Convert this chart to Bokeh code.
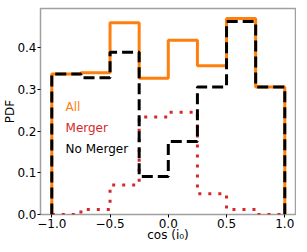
from bokeh.plotting import figure
from bokeh.models import Range1d, FixedTicker, Label
from bokeh.embed import file_html
from bokeh.resources import INLINE

# ---- data ----
bin_edges = [-1.0, -0.75, -0.5, -0.25, 0.0, 0.25, 0.5, 0.75, 1.0]
pdf_all = [0.337, 0.340, 0.460, 0.327, 0.418, 0.357, 0.470, 0.306]
pdf_merger = [0.0, 0.012, 0.071, 0.234, 0.245, 0.050, 0.012, 0.0]
pdf_no_merger = [0.337, 0.328, 0.389, 0.091, 0.175, 0.306, 0.463, 0.306]
x_ticks = [-1.0, -0.5, 0.0, 0.5, 1.0]
x_tick_labels = ["\u22121.0", "\u22120.5", "0.0", "0.5", "1.0"]
y_ticks = [0.0, 0.1, 0.2, 0.3, 0.4]
y_tick_labels = ["0.0", "0.1", "0.2", "0.3", "0.4"]
legend_labels = ["All", "Merger", "No Merger"]
x_label = "cos (i\u2080)"
y_label = "PDF"

FONT = "DejaVu Sans"


def step_outline(edges, vals):
    xs = [edges[0]]
    ys = [0.0]
    for i, v in enumerate(vals):
        xs += [edges[i], edges[i + 1]]
        ys += [v, v]
    xs.append(edges[-1])
    ys.append(0.0)
    return xs, ys


p = figure(frame_width=255, frame_height=206, output_backend="svg",
           toolbar_location=None,
           x_range=Range1d(-1.097, 1.092), y_range=Range1d(0.0, 0.494),
           min_border_left=35, min_border_right=1, min_border_top=8,
           min_border_bottom=28)

p.grid.visible = False
p.background_fill_color = "white"
p.border_fill_color = "white"
p.outline_line_color = "#a0a0a0"
p.outline_line_width = 1.5

# histograms (step outlines)
xa, ya = step_outline(bin_edges, pdf_all)
p.line(xa, ya, line_color="#ff7f0e", line_width=3)
xm, ym = step_outline(bin_edges, pdf_merger)
p.line(xm, ym, line_color="#d62728", line_width=3, line_dash="3 7",
       line_cap="butt")
xn, yn = step_outline(bin_edges, pdf_no_merger)
p.line(xn, yn, line_color="black", line_width=3, line_dash="11 5",
       line_cap="butt")

# axes
for ax in (p.xaxis[0], p.yaxis[0]):
    ax.axis_line_color = None
    ax.major_tick_in = 0
    ax.major_tick_out = 3
    ax.minor_tick_line_color = None
    ax.major_tick_line_color = "black"
    ax.major_label_text_font = FONT
    ax.major_label_text_font_size = "12px"
    ax.major_label_text_color = "black"
    ax.axis_label_text_font = FONT
    ax.axis_label_text_font_size = "12px"
    ax.axis_label_text_font_style = "normal"
    ax.axis_label_text_color = "black"

p.xaxis.ticker = FixedTicker(ticks=x_ticks)
p.xaxis.major_label_overrides = dict(zip(x_ticks, x_tick_labels))
p.yaxis.ticker = FixedTicker(ticks=y_ticks)
p.yaxis.major_label_overrides = dict(zip(y_ticks, y_tick_labels))
p.xaxis.axis_label = x_label
p.yaxis.axis_label = y_label
p.xaxis.major_label_standoff = 1
p.xaxis.axis_label_standoff = -3
p.yaxis.major_label_standoff = 1
p.yaxis.axis_label_standoff = -3

# legend as coloured text labels (no handles)
legend_colors = ["#ff7f0e", "#d62728", "black"]
legend_y = [0.257, 0.207, 0.157]
for txt, col, ly in zip(legend_labels, legend_colors, legend_y):
    p.add_layout(Label(x=-0.882, y=ly, text=txt, text_color=col,
                       text_baseline="middle", text_font=FONT,
                       text_font_size="12px"))

open("out.html", "w").write(file_html(p, INLINE))
